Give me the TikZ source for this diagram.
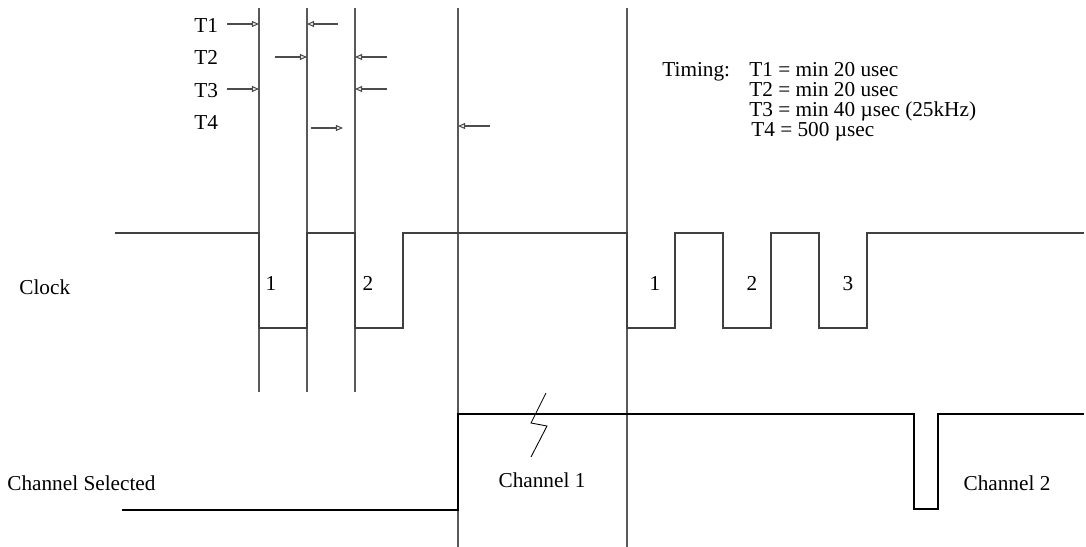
\documentclass[tikz,border=0pt]{standalone}
\usepackage{fontspec}
\setmainfont{Liberation Serif}
\usetikzlibrary{arrows.meta}

\begin{document}
\begin{tikzpicture}[x=0.02cm,y=-0.02cm,
		font=\fontsize{12.1}{14}\selectfont,
		lbl/.style={inner sep=0pt},
		marker/.style={draw=black!65, line width=0.6pt},
		tarrow/.style={draw=black!70, line width=0.6pt, -{Triangle[open,length=4pt,width=3.4pt]}},
		clk/.style={draw=black!75, line width=0.6pt},
		chan/.style={draw=black, line width=1.2pt}]
		\useasboundingbox (0,0) rectangle (1086,547);
		%draw vertical marker lines
		\foreach \n/\x in {ma/259, mb/307, mc/355}{
			\draw[marker] (\x,8) coordinate (\n) -- (\x,392);
		}
		\foreach \n/\x in {md/458, me/627}{
			\draw[marker] (\x,8) coordinate (\n) -- (\x,547);
		}
		%draw time labels
		\foreach \t/\y in {1/33, 2/65, 3/98, 4/130}{
			\node[lbl, anchor=base west] (t\t) at (194,\y) {T\t};
		}
		%draw arrows
		\foreach \xa/\xb/\y in {227/259/24, 338/307/24, 275/307/57, 387/355/57,
			227/259/89, 387/355/89, 311/343/128, 490/458/126}{
			\draw[tarrow] (\xa,\y) -- (\xb,\y);
		}
		%draw timing notes
		\node[lbl, anchor=base west] (timing) at (662,77) {Timing:};
		\node[lbl, anchor=base west] (n1) at (749,77) {T1 = min 20 usec};
		\node[lbl, anchor=base west] (n2) at (749,97) {T2 = min 20 usec};
		\node[lbl, anchor=base west] (n3) at (749,117) {T3 = min 40 µsec (25kHz)};
		\node[lbl, anchor=base west] (n4) at (751,137) {T4 = 500 µsec};
		%draw clock
		\node[lbl, anchor=west] (clock) at (19,287) {Clock};
		\draw[clk] (115,233) -- (259,233) -- (259,328) -- (307,328) -- (307,233)
			-- (355,233) -- (355,328) -- (403,328) -- (403,233)
			-- (627,233) -- (627,328) -- (675,328) -- (675,233)
			-- (723,233) -- (723,328) -- (771,328) -- (771,233)
			-- (819,233) -- (819,328) -- (867,328) -- (867,233) -- (1084,233);
		\foreach \n/\x/\c in {p1/271/1, p2/368/2, q1/655/1, q2/752/2, q3/848/3}{
			\node[lbl, anchor=base] (\n) at (\x,291) {\c};
		}
		%draw channel selected
		\node[lbl, anchor=west] (chsel) at (7,483) {Channel Selected};
		\draw[chan] (122,510) -- (458,510) -- (458,414) -- (914,414) -- (914,509)
			-- (938,509) -- (938,414) -- (1084,414);
		\draw[line width=0.5pt] (546,393) -- (531,423) -- (547,426) -- (531,457);
		\node[lbl] (ch1) at (542,480) {Channel 1};
		\node[lbl] (ch2) at (1007,483) {Channel 2};
\end{tikzpicture}
\end{document}
